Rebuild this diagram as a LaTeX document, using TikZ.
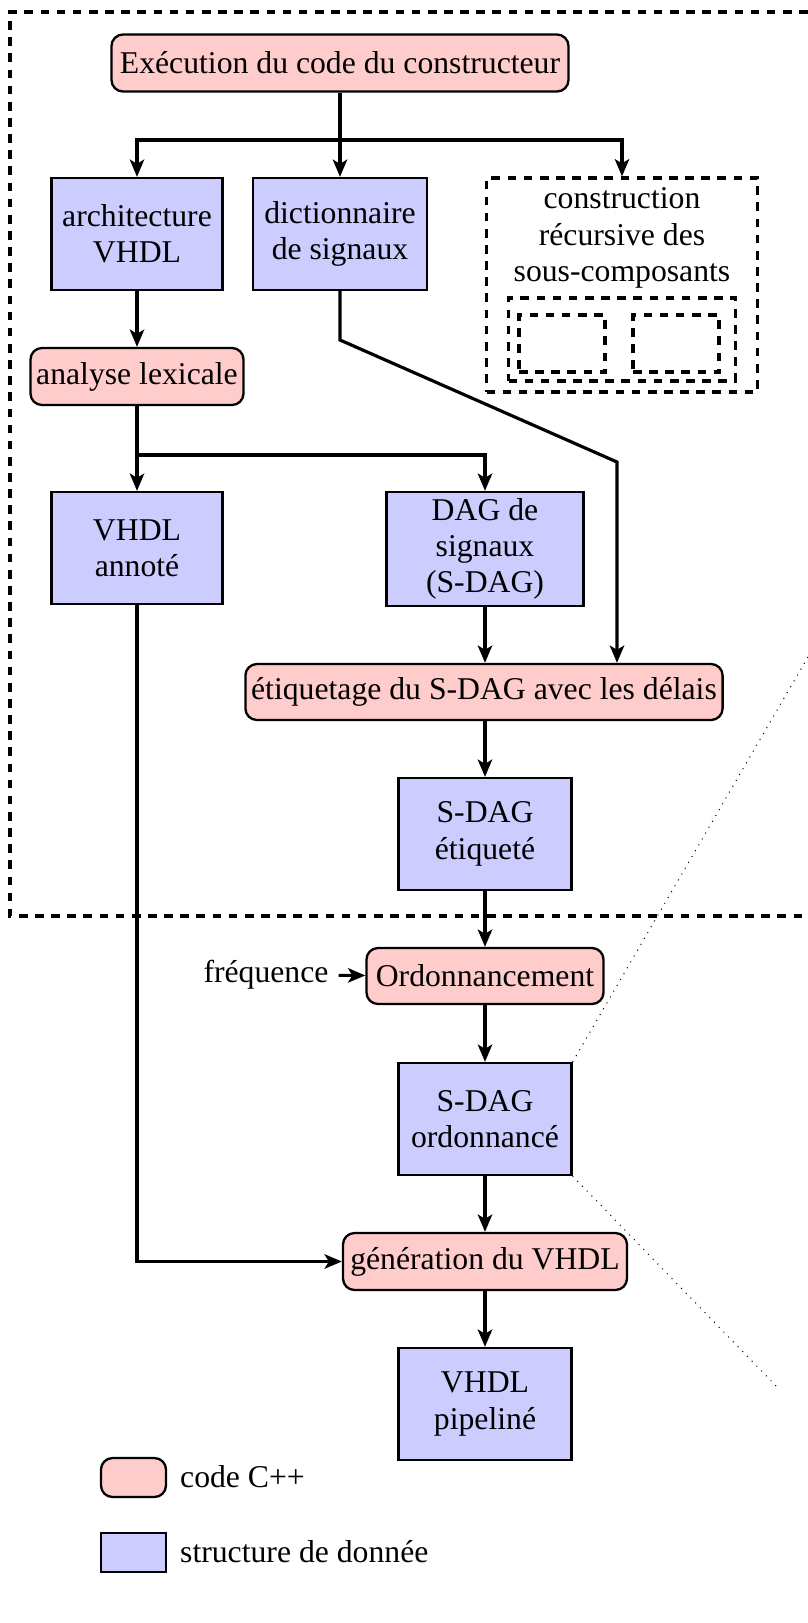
\documentclass[tikz,border=0pt]{standalone}
\usepackage{fontspec}
\setmainfont{Liberation Serif}
\usetikzlibrary{arrows.meta}
\def\pxu{0.347pt}
\tikzset{
  code/.style={draw, line width=0.8pt, rounded corners=4pt, fill=red!20, align=center, inner sep=2pt},
  data/.style={draw, line width=0.8pt, fill=blue!20, align=center, inner sep=2pt},
  dbox/.style={draw, line width=1.1pt, dash pattern=on 3pt off 2.6pt},
  conn/.style={line width=1.1pt},
  arr/.style={line width=1.1pt, -{Stealth[length=6pt,width=5pt,inset=1.5pt]}},
  zoomline/.style={line width=0.35pt, dotted},
}
\begin{document}
\begin{tikzpicture}[x=\pxu,y=-\pxu, font=\fontsize{11}{12.6}\selectfont]
\useasboundingbox (0,0) rectangle (808,1623);
\clip (0,0) rectangle (808,1623);
% outer dashed frame
\coordinate (fa) at (840,12);
\coordinate (fb) at (10,916);
\coordinate (fc) at (840,916);
\draw[dbox] (fa) -| (fb) -- (fc);

\node[code, minimum width=457*\pxu, minimum height=57*\pxu] (exec) at (340,63) {Exécution du code du constructeur};
\node[data, minimum width=171*\pxu, minimum height=112*\pxu] (arch) at (137,234) {architecture\\VHDL};
\node[data, minimum width=174*\pxu, minimum height=112*\pxu] (dict) at (340,234) {dictionnaire\\de signaux};
\node[dbox, minimum width=271*\pxu, minimum height=214*\pxu] (constr) at (622,285) {};
\node[align=center] (constrtxt) at (622,238) {construction\\récursive des\\sous-composants};
\node[dbox, minimum width=227*\pxu, minimum height=83*\pxu] (sub) at (622,339.5) {};
\node[dbox, minimum width=86*\pxu, minimum height=57*\pxu] (suba) at (562,343.5) {};
\node[dbox, minimum width=86*\pxu, minimum height=57*\pxu] (subb) at (676,343.5) {};

\node[code, minimum width=212*\pxu, minimum height=57*\pxu] (lex) at (137,376.5) {analyse lexicale};
\node[data, minimum width=171*\pxu, minimum height=112*\pxu] (annot) at (137,548) {VHDL\\annoté};
\node[data, minimum width=197*\pxu, minimum height=114*\pxu] (sdag) at (485,549) {DAG de\\signaux\\(S-DAG)};
\node[code, minimum width=469*\pxu, minimum height=56*\pxu] (etiq) at (484,692) {étiquetage du S-DAG avec les délais};
\node[data, minimum width=173*\pxu, minimum height=112*\pxu] (sdagE) at (485,834) {S-DAG\\étiqueté};
\node[code, minimum width=237*\pxu, minimum height=56*\pxu] (ord) at (485,976) {Ordonnancement};
\node (freq) at (266,975) {fréquence};
\node[data, minimum width=173*\pxu, minimum height=112*\pxu] (sdagO) at (485,1119) {S-DAG\\ordonnancé};
\node[code, minimum width=284*\pxu, minimum height=57*\pxu] (gen) at (485,1261.5) {génération du VHDL};
\node[data, minimum width=173*\pxu, minimum height=112*\pxu] (pip) at (485,1404) {VHDL\\pipeliné};

% legend
\node[code, minimum width=65*\pxu, minimum height=39*\pxu] (lcode) at (133.5,1477.5) {};
\node[anchor=west] (lcodet) at (170,1477) {code C++};
\node[data, minimum width=65*\pxu, minimum height=39*\pxu] (ldata) at (133.5,1552.5) {};
\node[anchor=west] (ldatat) at (170,1552) {structure de donnée};

% connectors
\coordinate (s1) at (340,140);
\draw[conn] (exec.south) -- (s1);
\draw[arr] (s1) -| (arch.north);
\draw[arr] (s1) -- (dict.north);
\draw[arr] (s1) -| (constr.north);
\draw[arr] (arch) -- (lex);
\coordinate (s2) at (137,455);
\draw[conn] (lex.south) -- (s2);
\draw[arr] (s2) -- (annot.north);
\draw[arr] (s2) -| (sdag.north);
\coordinate (d1) at (340,340);
\coordinate (d2) at (617,462);
\draw[arr] (dict.south) -- (d1) -- (d2) -- (d2 |- etiq.north);
\draw[arr] (sdag.south) -- (sdag.south |- etiq.north);
\draw[arr] (etiq.south -| sdagE.north) -- (sdagE.north);
\draw[arr] (sdagE) -- (ord);
\draw[arr] (freq) -- (ord);
\draw[arr] (ord) -- (sdagO);
\draw[arr] (sdagO) -- (gen);
\draw[arr] (gen) -- (pip);
\draw[arr] (annot.south) |- (gen.west);

% zoom lines
\coordinate (z1) at (812,650);
\coordinate (z2) at (780,1390);
\draw[zoomline] (sdagO.north east) -- (z1);
\draw[zoomline] (sdagO.south east) -- (z2);
\end{tikzpicture}
\end{document}
